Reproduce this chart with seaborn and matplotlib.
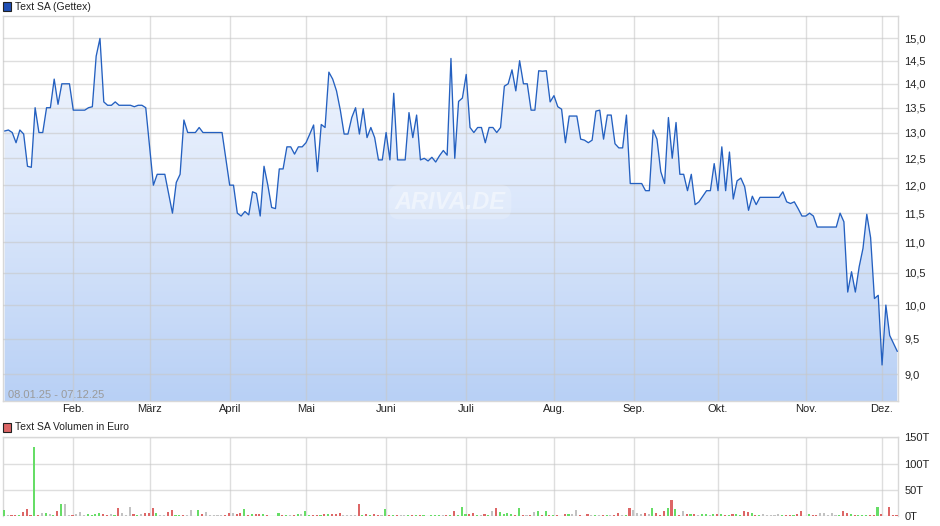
import numpy as np
import matplotlib
matplotlib.use("Agg")
import matplotlib.pyplot as plt
import seaborn as sns
from matplotlib.colors import LinearSegmentedColormap
from matplotlib.ticker import FixedLocator, NullLocator, FixedFormatter

# ---------------- data ----------------
price_day = [0, 1, 2, 3, 4, 5, 6, 7, 8, 9, 10, 11, 12, 13, 14, 15, 17, 18, 21, 22, 23, 24, 25, 26, 27, 28, 29, 30,
             33, 34, 35, 36, 37, 39, 40, 42, 44, 45, 46, 47, 48, 50, 51, 52, 57, 59, 60, 61, 62, 63, 64, 65, 66,
             67, 68, 69, 70, 71, 72, 73, 74, 75, 76, 77, 78, 79, 80, 81, 82, 83, 84, 85, 86, 87, 88, 89, 90, 91,
             92, 93, 94, 95, 96, 97, 98, 99, 100, 101, 102, 103, 105, 106, 107, 108, 109, 110, 111, 112, 113, 114,
             115, 116, 117, 118, 119, 120, 121, 122, 123, 124, 125, 126, 127, 128, 129, 130, 131, 132, 133, 134,
             135, 136, 137, 138, 139, 140, 141, 142, 143, 144, 145, 146, 147, 148, 149, 150, 151, 152, 153, 154,
             155, 156, 157, 158, 159, 160, 161, 162, 163, 164, 167, 168, 169, 170, 171, 172, 173, 174, 175, 176,
             177, 178, 179, 180, 181, 182, 183, 184, 185, 186, 187, 188, 189, 190, 191, 192, 193, 194, 195, 196,
             197, 198, 203, 204, 205, 206, 207, 208, 209, 210, 211, 212, 213, 218, 219, 220, 221, 222, 223, 224,
             225, 226, 227, 228, 229, 230, 231, 232, 234]
price_val = [13.03, 13.05, 13.0, 12.8, 13.05, 12.97, 12.35, 12.33, 13.5, 13.0, 13.0, 13.5, 13.5, 14.1, 13.57, 14.0,
             14.0, 13.45, 13.45, 13.5, 13.52, 14.6, 15.0, 13.62, 13.55, 13.55, 13.62, 13.55, 13.55, 13.52, 13.55,
             13.55, 13.5, 12.0, 12.2, 12.2, 11.5, 12.05, 12.2, 13.25, 13.0, 13.0, 13.1, 13.0, 13.0, 12.0, 12.0,
             11.5, 11.45, 11.53, 11.47, 11.88, 11.85, 11.45, 12.35, 12.0, 11.6, 11.58, 12.3, 12.3, 12.72, 12.72,
             12.58, 12.72, 12.72, 12.8, 12.97, 13.15, 12.25, 13.16, 13.1, 14.25, 14.1, 13.85, 13.45, 12.97, 12.97,
             13.3, 13.5, 12.97, 13.48, 12.9, 13.1, 12.9, 12.47, 12.47, 13.0, 12.47, 13.8, 12.47, 12.47, 13.4,
             12.9, 13.35, 12.47, 12.5, 12.45, 12.52, 12.43, 12.55, 12.65, 12.56, 14.55, 12.5, 13.63, 13.7, 14.2,
             13.1, 13.0, 13.1, 13.1, 12.8, 13.1, 13.1, 13.0, 13.1, 13.95, 14.0, 14.3, 13.85, 14.5, 14.0, 14.0,
             13.45, 13.45, 14.28, 14.27, 14.28, 13.62, 13.75, 13.52, 13.47, 12.8, 13.33, 13.33, 13.33, 12.87,
             12.85, 12.8, 12.85, 13.43, 13.45, 12.87, 13.35, 13.35, 12.78, 12.7, 12.7, 13.35, 12.03, 12.03, 11.9,
             11.9, 13.05, 12.87, 12.25, 12.03, 13.3, 12.5, 13.2, 12.2, 12.2, 11.9, 12.2, 11.65, 11.7, 11.8, 11.9,
             11.9, 12.4, 11.9, 12.72, 11.9, 12.62, 11.75, 12.08, 12.13, 11.97, 11.55, 11.8, 11.65, 11.78, 11.78,
             11.88, 11.7, 11.67, 11.7, 11.58, 11.45, 11.45, 11.5, 11.45, 11.26, 11.26, 11.5, 11.35, 10.2, 10.52,
             10.2, 10.6, 10.9, 11.48, 11.08, 10.1, 10.15, 9.13, 10.0, 9.55, 9.32]

# daily volume in thousand euro (T), one bar per trading day 0..234
vol_k = [11.7, 2, 1, 2.6, 2.6, 7.8, 13.6, 2.6, 132, 1,
         5.8, 5.8, 3.9, 2.6, 9.7, 23.4, 23.4, 2, 2.6, 3.9,
         7.8, 2.6, 3.9, 2.6, 3.9, 5.8, 3.9, 2.6, 3.9, 2.6,
         15.6, 5.8, 1, 17.5, 3.9, 2, 3.9, 5.8, 5.8, 15.6,
         5.8, 2, 2, 7.8, 11.7, 1.3, 1.3, 1, 1, 11.7,
         0, 11.7, 3.9, 7.8, 1, 1, 2, 1, 2, 5.8,
         5.8, 3.9, 5.8, 13.6, 2.6, 3.9, 3.9, 3.9, 3.9, 2.6,
         0, 0, 5.8, 1, 2, 2, 1, 3.9, 3.9, 9.7,
         2, 1, 1, 2.6, 3.9, 3.9, 3.9, 3.9, 5.8, 1,
         1, 1, 1, 23.4, 2.6, 3.9, 1, 3.9, 2.6, 2.6,
         13.6, 1, 2.6, 2.6, 1, 2, 1, 1, 2.6, 2.6,
         1, 0, 2.6, 2.6, 2.6, 1, 2.6, 2.6, 9.7, 2.6,
         17.5, 4.5, 3.9, 5.8, 1, 1, 3.9, 1, 9, 15.6,
         7.8, 3.9, 5.8, 3.9, 2.6, 15.6, 2.6, 2, 2.6, 7.8,
         9.7, 2.6, 9.7, 1, 1, 2.6, 0, 3.9, 3.9, 3.9,
         11.7, 1, 0, 3.9, 1, 2, 1, 1, 2, 2,
         2.6, 5.8, 2.6, 2.6, 15.6, 11.7, 5.8, 3.9, 5.8, 3.9,
         15.6, 5.8, 1, 9.7, 15.6, 31, 13.6, 2.6, 9.7, 3.9,
         3.9, 3.9, 1, 3.9, 3.9, 2.6, 3.9, 3.9, 3.9, 2.6,
         2.6, 3.9, 3.9, 2.6, 9.7, 7.8, 5.8, 2.6, 1, 3.9,
         2.6, 2.6, 2.6, 3.9, 1, 2.6, 2.6, 2.6, 3.9, 9.7,
         0, 3.9, 1, 1, 5.8, 5.8, 1, 5.8, 2.6, 2.6,
         9.7, 5.8, 3.9, 1, 1, 2.6, 2.6, 2.6, 2.6, 17.5,
         3.9, 0, 17.5, 2.6, 2.6]
# g = up (green), r = down (red), n = unchanged (grey)
vol_dir = (["g", "n", "r", "r", "g", "r", "r", "r", "g", "r"] +
           ["n", "g", "n", "g", "r", "g", "n", "n", "r", "n"] +
           ["n", "n", "g", "g", "g", "g", "r", "r", "n", "g"] +
           ["r", "n", "n", "n", "r", "g", "n", "r", "r", "r"] +
           ["g", "n", "n", "r", "r", "g", "g", "r", "n", "n"] +
           ["n", "g", "r", "n", "n", "n", "n", "n", "r", "r"] +
           ["n", "r", "r", "g", "r", "g", "r", "r", "g", "r"] +
           ["n", "n", "g", "r", "g", "n", "r", "g", "n", "g"] +
           ["g", "r", "r", "g", "r", "g", "r", "r", "r", "n"] +
           ["n", "n", "n", "r", "g", "r", "g", "r", "r", "n"] +
           ["g", "r", "g", "r", "n", "n", "g", "r", "g", "r"] +
           ["g", "n", "g", "g", "g", "n", "r", "g", "r", "g"] +
           ["g", "g", "r", "r", "g", "n", "r", "g", "n", "r"] +
           ["g", "g", "g", "g", "r", "g", "r", "n", "r", "n"] +
           ["g", "r", "g", "r", "g", "r", "n", "r", "g", "n"] +
           ["n", "r", "n", "r", "n", "g", "n", "r", "g", "n"] +
           ["r", "r", "n", "g", "r", "n", "n", "n", "r", "n"] +
           ["g", "r", "r", "r", "g", "r", "g", "r", "n", "r"] +
           ["g", "r", "n", "g", "g", "n", "g", "r", "g", "r"] +
           ["g", "r", "g", "g", "r", "r", "g", "r", "g", "n"] +
           ["n", "n", "n", "n", "g", "r", "r", "g", "r", "r"] +
           ["n", "g", "r", "r", "n", "n", "n", "n", "n", "g"] +
           ["r", "r", "g", "r", "g", "g", "g", "r", "r", "g"] +
           ["r", "n", "r", "r", "r"])
month_labels = ["Feb.", "März", "April", "Mai", "Juni", "Juli", "Aug.", "Sep.", "Okt.", "Nov.", "Dez."]
month_start_idx = [18, 38, 59, 79, 100, 121, 144, 165, 187, 210, 230]
price_ticks = [9.0, 9.5, 10.0, 10.5, 11.0, 11.5, 12.0, 12.5, 13.0, 13.5, 14.0, 14.5, 15.0]
vol_ticks = [0, 50, 100, 150]
vol_tick_labels = ["0T", "50T", "100T", "150T"]
date_range_text = "08.01.25 - 07.12.25"

# ---------------- style ----------------
sns.set_theme(style="white")
plt.rcParams["font.family"] = ["Liberation Sans", "DejaVu Sans"]

W, H = 940, 526
fig = plt.figure(figsize=(W / 100, H / 100), dpi=100)
fig.patch.set_facecolor("white")

def fx(px):
    return px / W

def fy(py):
    return 1 - py / H

grid_col = "#c8c8c8"
spine_col = "#d8d8d8"
line_col = "#2460c0"

# ---------------- price panel ----------------
L, R = 3, 898
ptop, pbot = 16, 401
ax = fig.add_axes([fx(L), fy(pbot), fx(R - L), (pbot - ptop) / H])
ax.set_yscale("log")
xmin, xmax = (L - 4.6) / 3.815, (R - 4.6) / 3.815
ymin, ymax = 8.643, 15.52

# gradient fill under the line
fill = ax.fill_between(price_day, price_val, ymin * 0.9, facecolor="none", edgecolor="none")
cmap = LinearSegmentedColormap.from_list("g", ["#b8d0f5", "#dbe7fb", "#f3f7fe"])
grad = np.linspace(0, 1, 256).reshape(-1, 1)
im = ax.imshow(grad, extent=[0, 1, 0, 1], transform=ax.transAxes, cmap=cmap,
               aspect="auto", origin="lower", zorder=1)
im.set_clip_path(fill.get_paths()[0], transform=ax.transData)

sns.lineplot(x=price_day, y=price_val, ax=ax, color=line_col, linewidth=0.95, zorder=4)

ax.set_xlim(xmin, xmax)
ax.set_ylim(ymin, ymax)
ax.set_autoscale_on(False)

ax.yaxis.set_major_locator(FixedLocator(price_ticks))
ax.yaxis.set_minor_locator(NullLocator())
ax.yaxis.set_major_formatter(FixedFormatter([f"{t:.1f}".replace(".", ",") for t in price_ticks]))
ax.yaxis.tick_right()
ax.xaxis.set_major_locator(FixedLocator(month_start_idx))
ax.xaxis.set_major_formatter(FixedFormatter(month_labels))
ax.tick_params(axis="both", length=0, labelsize=8, colors="#222222")
ax.tick_params(axis="y", pad=4.5)
ax.tick_params(axis="x", pad=2.5)
ax.grid(True, color=grid_col, alpha=0.6, linewidth=1)
ax.set_axisbelow(False)
for s in ax.spines.values():
    s.set_color(spine_col)
    s.set_linewidth(1)
ax.set_xlabel("")
ax.set_ylabel("")

ax.text((8 - L) / (R - L), (pbot - 395) / (pbot - ptop), date_range_text, transform=ax.transAxes,
        fontsize=8, color="#9a9a9a", ha="left", va="center", zorder=5)

ax.text((450 - L) / (R - L), (pbot - 202) / (pbot - ptop), "ARIVA.DE", transform=ax.transAxes,
        fontsize=17, fontstyle="italic", fontweight="bold", color="white", alpha=0.45,
        ha="center", va="center", zorder=3,
        bbox=dict(boxstyle="round,pad=0.25,rounding_size=0.5", facecolor="white", alpha=0.18,
                  edgecolor="none"))

# legend header of price panel
fig.patches.append(plt.Rectangle((fx(3), fy(11)), fx(8), 9 / H, transform=fig.transFigure,
                                 facecolor="#1f4fb5", edgecolor="#222222", linewidth=0.8))
fig.text(fx(15), fy(6.5), "Text SA (Gettex)", fontsize=7.5, color="#222222", ha="left", va="center")

# ---------------- volume panel ----------------
vtop, vbot = 437.3, 516
ax2 = fig.add_axes([fx(L), fy(vbot), fx(R - L), (vbot - vtop) / H])
col_map = {"g": "#66dd66", "r": "#dd6666", "n": "#c2c2c2"}
days = np.arange(len(vol_k))
ax2.bar(days - 0.2, vol_k, width=0.55, color=[col_map[d] for d in vol_dir], zorder=3, linewidth=0)
ax2.set_xlim(xmin, xmax)
ax2.set_ylim(0, 150)
ax2.yaxis.set_major_locator(FixedLocator(vol_ticks))
ax2.yaxis.set_major_formatter(FixedFormatter(vol_tick_labels))
ax2.yaxis.tick_right()
ax2.xaxis.set_major_locator(FixedLocator(month_start_idx))
ax2.set_xticklabels([])
ax2.tick_params(axis="both", length=0, labelsize=8, colors="#222222")
ax2.tick_params(axis="y", pad=4.5)
ax2.grid(True, color=grid_col, alpha=0.6, linewidth=1)
ax2.set_axisbelow(True)
for s in ax2.spines.values():
    s.set_color(spine_col)
    s.set_linewidth(1)
ax2.spines["bottom"].set_visible(False)

fig.patches.append(plt.Rectangle((fx(3), fy(432)), fx(8), 9 / H, transform=fig.transFigure,
                                 facecolor="#dd6666", edgecolor="#222222", linewidth=0.8))
fig.text(fx(15), fy(427.5), "Text SA Volumen in Euro", fontsize=7.5, color="#222222",
         ha="left", va="center")

fig.savefig("out.png", dpi=100, facecolor="white")
